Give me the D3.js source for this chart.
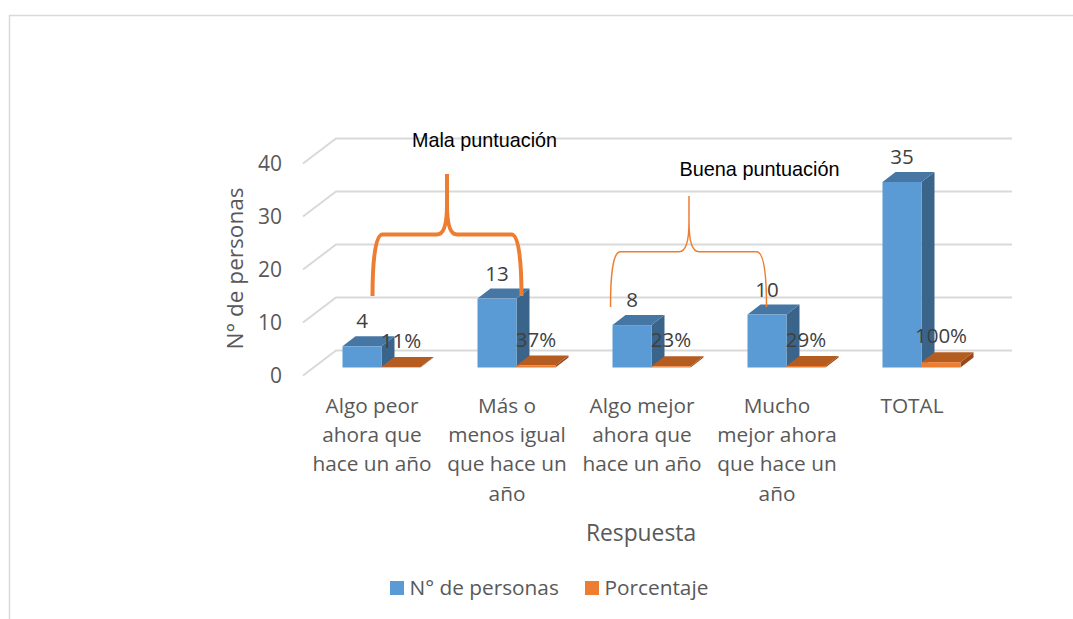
<!DOCTYPE html>
<html>
<head>
<meta charset="utf-8">
<style>
body { margin: 0; background: #fff; }
text { font-family: "Open Sans", sans-serif; fill: #595959; }
.note { font-family: "Liberation Sans", sans-serif; fill: #000; }
.grid { stroke: #d9d9d9; stroke-width: 2px; fill: none; }
.brace { stroke: #ed7d31; fill: none; }
</style>
<script src="https://d3js.org/d3.v7.min.js"></script>
</head>
<body>
<svg width="1073" height="619"></svg>
<script>
var categories = ["Algo peor ahora que hace un año", "Más o menos igual que hace un año", "Algo mejor ahora que hace un año", "Mucho mejor ahora que hace un año", "TOTAL"];
var categoryLines = [
  ["Algo peor", "ahora que", "hace un año"],
  ["Más o", "menos igual", "que hace un", "año"],
  ["Algo mejor", "ahora que", "hace un año"],
  ["Mucho", "mejor ahora", "que hace un", "año"],
  ["TOTAL"]
];
var personas = [4, 13, 8, 10, 35];
var porcentaje = [0.11, 0.37, 0.23, 0.29, 1];
var porcentajeLabels = ["11%", "37%", "23%", "29%", "100%"];
var yTicks = [0, 10, 20, 30, 40];

var svg = d3.select("svg");

// frame of the pasted chart, open on the right and bottom
svg.append("path")
   .attr("d", "M9.5,619V15.5H1073")
   .attr("fill", "none")
   .attr("stroke", "#d9d9d9")
   .attr("stroke-width", 1.5);

var x = d3.scaleBand().domain(d3.range(5)).range([304.5, 979.5]);
var y = d3.scaleLinear().domain([0, 40]).range([367.5, 155.5]);
var barW = 39;
var barOffset = 38;   // left of band to first bar
var dx = 13, dy = -10;          // bar depth
var wallDx = 33, wallDy = -25;  // floor depth
var wallShift = -17;            // back wall sits above the bar front

// grid with the slanted part on the left wall
var grid = svg.append("g");
yTicks.forEach(function(t) {
  var yb = y(t) + wallShift;
  grid.append("path").attr("class", "grid")
      .attr("d", "M303," + (yb - wallDy) + "L" + (303 + wallDx) + "," + yb + "H1012");
  svg.append("text")
     .attr("x", 282).attr("y", y(t) + 15.5)
     .attr("text-anchor", "end")
     .attr("font-size", 21)
     .text(t);
});

function bar3d(g, x0, v, front, top, side) {
  var yt = y(v), yb = y(0), x1 = x0 + barW;
  g.append("path").attr("fill", side)
   .attr("d", "M" + x1 + "," + yt + "l" + dx + "," + dy + "V" + (yb + dy) + "L" + x1 + "," + yb + "Z");
  g.append("path").attr("fill", top)
   .attr("d", "M" + x0 + "," + yt + "l" + dx + "," + dy + "H" + (x1 + dx) + "L" + x1 + "," + yt + "Z");
  g.append("rect").attr("fill", front)
   .attr("x", x0).attr("y", yt).attr("width", barW).attr("height", yb - yt);
}

var bars = svg.append("g");
categories.forEach(function(c, i) {
  var x0 = x(i) + barOffset;
  bar3d(bars, x0, personas[i], "#5b9bd5", "#4677a4", "#3a6489");
  bar3d(bars, x0 + barW, porcentaje[i], "#ed7d31", "#b55c20", "#97491a");
});

// value labels
categories.forEach(function(c, i) {
  var x0 = x(i) + barOffset;
  svg.append("text")
     .attr("x", x0 + 19.5).attr("y", y(personas[i]) - 18)
     .attr("text-anchor", "middle").attr("font-size", 20.5)
     .style("fill", "#404040").text(personas[i]);
  svg.append("text")
     .attr("x", x0 + barW + 19.5).attr("y", y(porcentaje[i]) - 19)
     .attr("text-anchor", "middle").attr("font-size", 20.5)
     .style("fill", "#404040").text(porcentajeLabels[i]);
});

// category labels
categoryLines.forEach(function(lines, i) {
  var t = svg.append("text").attr("text-anchor", "middle").attr("font-size", 20.8);
  lines.forEach(function(l, k) {
    t.append("tspan")
     .attr("x", x(i) + x.bandwidth() / 2)
     .attr("y", 413 + k * 29.2)
     .text(l);
  });
});

// axis titles
svg.append("text")
   .attr("transform", "translate(243,268.5) rotate(-90)")
   .attr("text-anchor", "middle").attr("font-size", 22.6)
   .text("N° de personas");
svg.append("text")
   .attr("x", 641).attr("y", 541)
   .attr("text-anchor", "middle").attr("font-size", 22.8)
   .text("Respuesta");

// legend
var legendItems = [["N° de personas", "#5b9bd5", 390], ["Porcentaje", "#ed7d31", 585]];
legendItems.forEach(function(d) {
  svg.append("rect").attr("x", d[2]).attr("y", 581).attr("width", 14).attr("height", 14).attr("fill", d[1]);
  svg.append("text").attr("x", d[2] + 19.5).attr("y", 595).attr("font-size", 20.8).text(d[0]);
});

// hand drawn braces over the groups
function brace(xl, xr, xm, yb, ym, yt, w) {
  var r = 10;
  svg.append("path").attr("class", "brace").attr("stroke-width", w)
     .attr("d", "M" + xl + "," + yb +
       "C" + xl + "," + (yb - 30) + " " + (xl + 2) + "," + ym + " " + (xl + r) + "," + ym +
       "H" + (xm - r) +
       "C" + (xm - 4) + "," + ym + " " + xm + "," + (ym - 8) + " " + xm + "," + (ym - 30) +
       "L" + xm + "," + yt +
       "M" + xm + "," + (ym - 30) +
       "C" + xm + "," + (ym - 8) + " " + (xm + 4) + "," + ym + " " + (xm + r) + "," + ym +
       "H" + (xr - r) +
       "C" + (xr - 2) + "," + ym + " " + xr + "," + (yb - 30) + " " + xr + "," + yb);
}
brace(x(0) + 68, x(1) + 82, x(0) + 142.5, y(13) - 2.6, y(25) - 0.5, y(36) - 2.7, 4);
brace(x(2) + 36, x(3) + 57, x(2) + 114.5, y(10) - 7.5, y(22) + 0.8, y(32) - 2, 1.5);

svg.append("text").attr("class", "note")
   .attr("x", 484.5).attr("y", 146.5).attr("text-anchor", "middle")
   .attr("font-size", 21).attr("textLength", 145).attr("lengthAdjust", "spacingAndGlyphs")
   .text("Mala puntuación");
svg.append("text").attr("class", "note")
   .attr("x", 759.5).attr("y", 175.5).attr("text-anchor", "middle")
   .attr("font-size", 21).attr("textLength", 160).attr("lengthAdjust", "spacingAndGlyphs")
   .text("Buena puntuación");
</script>
</body>
</html>
